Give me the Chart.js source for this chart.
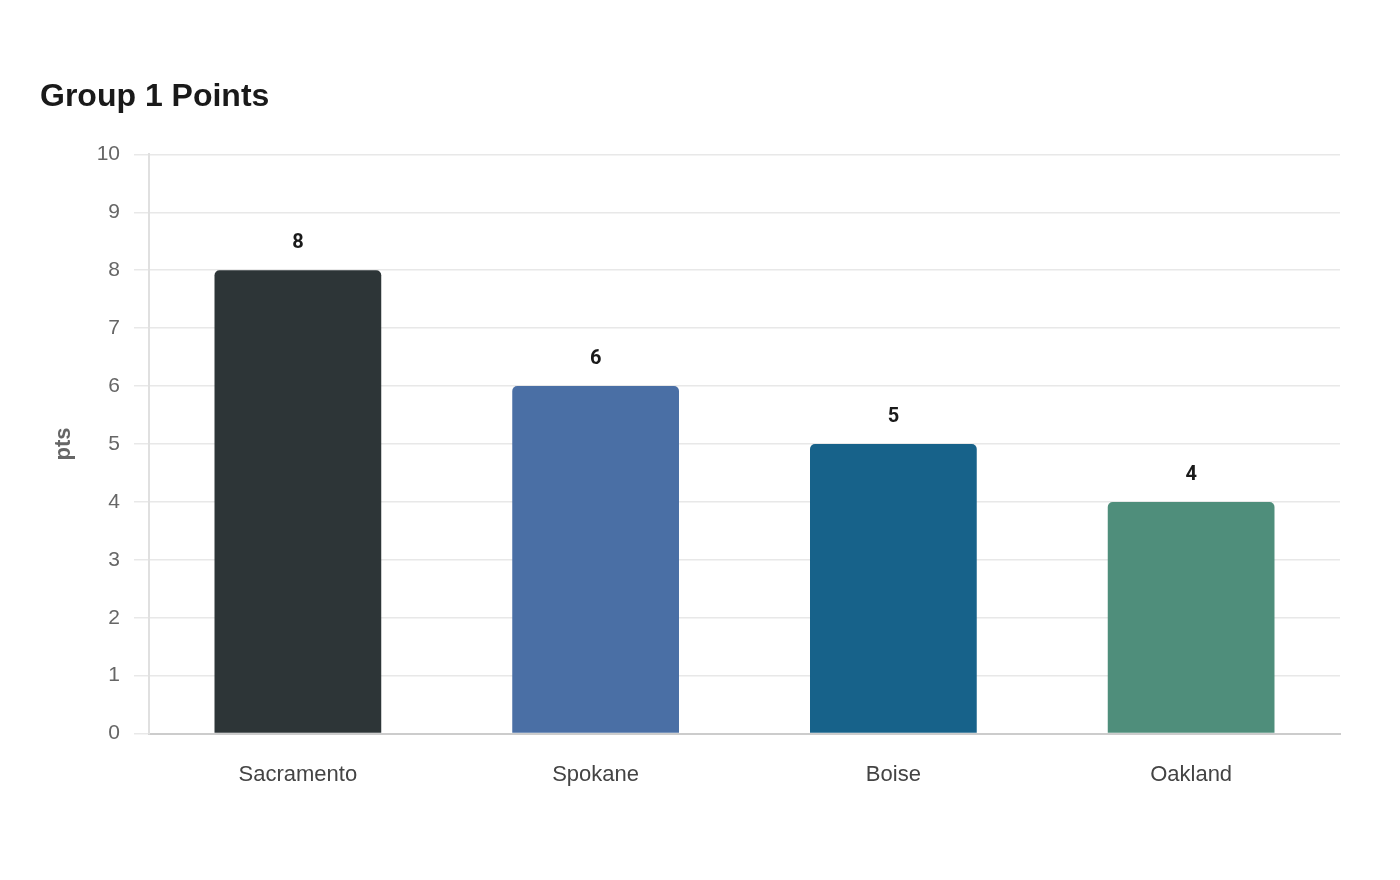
<!DOCTYPE html>
<html>
<head>
<meta charset="utf-8">
<script src="https://cdn.jsdelivr.net/npm/chart.js@4"></script>
<style>
html,body{margin:0;padding:0;background:#fff;}
#wrap{width:1400px;height:880px;position:relative;}
</style>
</head>
<body>
<div id="wrap"><canvas id="c" width="1400" height="880"></canvas></div>
<script>
const categories = ["Sacramento", "Spokane", "Boise", "Oakland"];
const values = [8, 6, 5, 4];
const barColors = ["#2d3537", "#4a6fa5", "#17628a", "#4f8e7b"];
const yTicks = [0, 1, 2, 3, 4, 5, 6, 7, 8, 9, 10];
const chartTitle = "Group 1 Points";
const yTitle = "pts";

const valueLabels = {
  id: "valueLabels",
  afterDatasetsDraw(chart) {
    const ctx = chart.ctx;
    const meta = chart.getDatasetMeta(0);
    ctx.save();
    ctx.font = "bold 20px Roboto, 'Liberation Sans', sans-serif";
    ctx.fillStyle = "#1a1a1a";
    ctx.textAlign = "center";
    ctx.textBaseline = "middle";
    meta.data.forEach((bar, i) => {
      ctx.fillText(String(values[i]), bar.x, bar.y - 27);
    });
    ctx.restore();
  }
};

new Chart(document.getElementById("c"), {
  type: "bar",
  data: {
    labels: categories,
    datasets: [{
      data: values,
      backgroundColor: barColors,
      borderRadius: {topLeft: 5, topRight: 5, bottomLeft: 0, bottomRight: 0},
      borderSkipped: false,
      barPercentage: 0.7,
      categoryPercentage: 0.8
    }]
  },
  options: {
    responsive: false,
    animation: false,
    devicePixelRatio: 1,
    layout: { padding: { left: 40, right: 60, top: 0, bottom: 64 } },
    plugins: {
      legend: { display: false },
      tooltip: { enabled: false },
      title: {
        display: true,
        text: chartTitle,
        align: "start",
        color: "#1a1a1a",
        font: { family: "'Liberation Sans', Arial, sans-serif", size: 32, weight: "bold", lineHeight: 1.2 },
        padding: { top: 78, bottom: 38 }
      }
    },
    scales: {
      x: {
        grid: { display: false, drawTicks: false },
        border: { display: true, color: "#cccccc", width: 2 },
        ticks: {
          color: "#444444",
          padding: 28,
          font: { family: "'Liberation Sans', Arial, sans-serif", size: 22 }
        }
      },
      y: {
        min: 0,
        max: 10,
        afterBuildTicks(scale) { scale.ticks = yTicks.map(v => ({ value: v })); },
        afterFit(scale) { scale.width = 109; },
        grid: { color: "#e8e8e8", lineWidth: 1.5, tickLength: 15 },
        border: { display: true, color: "#e0e0e0", width: 2 },
        ticks: {
          color: "#666666",
          padding: 14,
          font: { family: "'Liberation Sans', Arial, sans-serif", size: 21 }
        },
        title: {
          display: true,
          text: yTitle,
          color: "#666666",
          font: { family: "'Liberation Sans', Arial, sans-serif", size: 22, weight: "bold" },
          padding: { top: 11, bottom: 4 }
        }
      }
    }
  },
  plugins: [valueLabels]
});
</script>
</body>
</html>
